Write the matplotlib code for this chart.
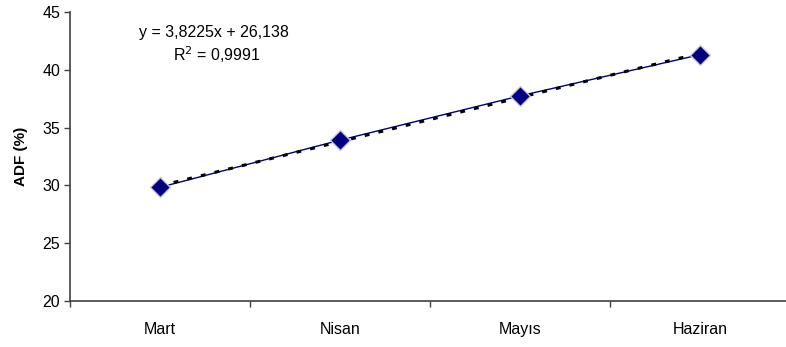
import numpy as np
import matplotlib.pyplot as plt

plt.rcParams['font.family'] = ['Liberation Sans', 'DejaVu Sans']

# ADF values by month
months = ["Mart", "Nisan", "Mayıs", "Haziran"]
adf = [29.83, 33.91, 37.74, 41.30]

# linear trend as reported
slope = 3.8225
intercept = 26.138
r2 = 0.9991

x = np.arange(1, len(months) + 1)

fig = plt.figure(figsize=(7.86, 3.47), dpi=100)
ax = fig.add_axes([0.089, 0.1326, 0.916, 0.833])

# data line, then the dashed trendline over it, markers on top
ax.plot(x, adf, color='#000080', lw=1.0, zorder=2)
xt = np.array([x[0], x[-1]], float)
ax.plot(xt, slope * xt + intercept, color='black', lw=2.2,
        linestyle=(0, (1.6, 3.0)), zorder=3)
ax.plot(x, adf, linestyle='none', marker='D', markersize=10,
        markerfacecolor='#000080', markeredgecolor='#c8c8d0',
        markeredgewidth=1.0, zorder=4)

ax.set_xlim(0.5, len(months) + 0.5)
ax.set_ylim(20, 45)
ax.set_yticks(np.arange(20, 46, 5))
ax.set_xticks(np.arange(0.5, len(months) + 1, 1))
ax.set_xticklabels([])
ax.set_xticks(x, minor=True)
ax.set_xticklabels(months, minor=True)
ax.tick_params(axis='x', which='minor', length=0, pad=15, labelsize=11.5)
ax.tick_params(axis='x', which='major', length=4, width=1, color='#404040')
ax.tick_params(axis='y', length=4, width=1, color='#404040', labelsize=11.5, pad=3)

for s in ['top', 'right']:
    ax.spines[s].set_visible(False)
for s in ['left', 'bottom']:
    ax.spines[s].set_color('#404040')
    ax.spines[s].set_linewidth(1.2)

ax.set_ylabel("ADF (%)", fontsize=11, fontweight='bold', labelpad=10)

eq = "y = {}x + {}".format(str(slope).replace('.', ','), str(intercept).replace('.', ','))
fig.text(214 / 786, 1 - 33 / 347, eq, ha='center', va='center', fontsize=11.5)
fig.text(217 / 786, 1 - 55 / 347, "R$^2$ = {}".format(str(r2).replace('.', ',')),
         ha='center', va='center', fontsize=11.5)

fig.savefig("out.png", dpi=100)
